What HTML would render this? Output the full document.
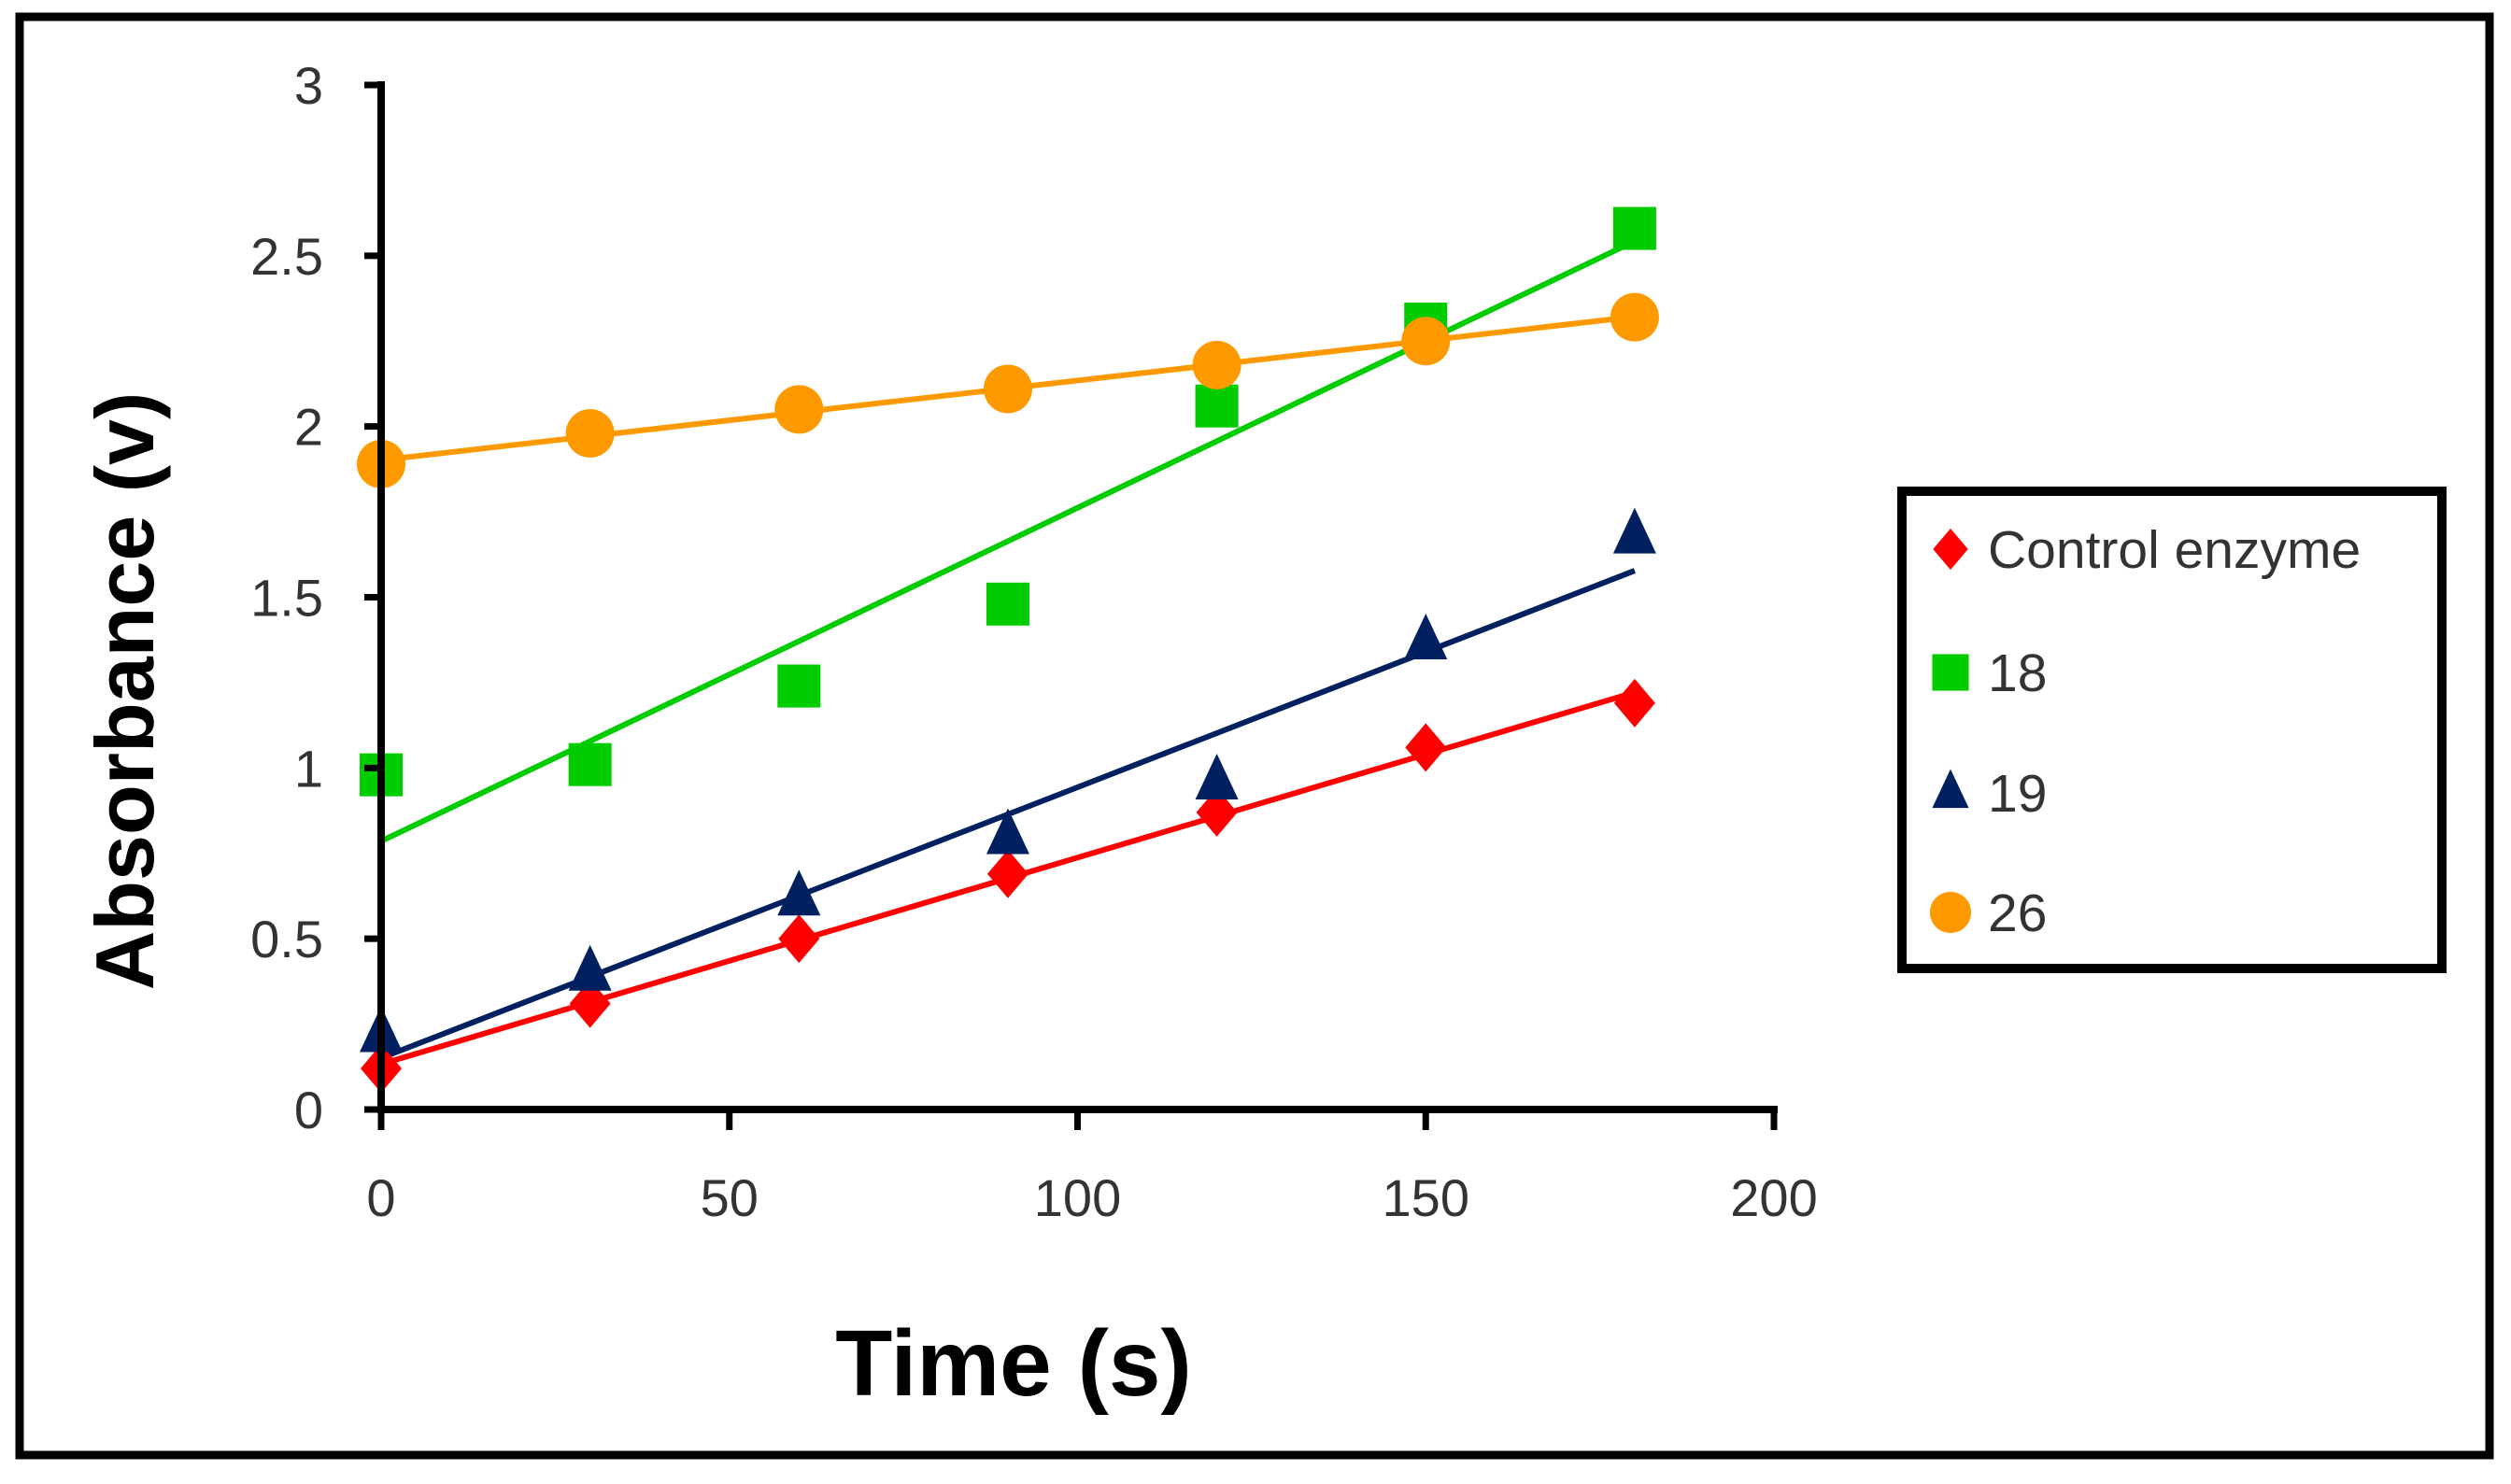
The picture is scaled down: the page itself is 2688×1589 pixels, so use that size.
<!DOCTYPE html>
<html><head><meta charset="utf-8"><style>
html,body{margin:0;padding:0;background:#fff;}
svg{display:block;}
text{font-family:"Liberation Sans",sans-serif;}
</style></head><body>
<svg id="chart" width="2688" height="1589" viewBox="0 0 2688 1589" xmlns="http://www.w3.org/2000/svg">
<rect x="21" y="18" width="2644" height="1540" fill="#fff" stroke="#000" stroke-width="9"/>
<g id="plot"></g>
<g id="axes"></g>
<text x="1085" y="1494" font-size="100" font-weight="bold" text-anchor="middle">Time (s)</text>
<text transform="translate(164,740) rotate(-90)" font-size="88" font-weight="bold" text-anchor="middle">Absorbance (v)</text>
<g>
<rect x="2036" y="526" width="578" height="511" fill="#fff" stroke="#000" stroke-width="10"/>
<g id="legend-items"></g>
</g>
</svg>
<script>
const xValues = [0, 30, 60, 90, 120, 150, 180];
const seriesNames = ["Control enzyme", "18", "19", "26"];
const controlValues = [0.12, 0.31, 0.50, 0.69, 0.87, 1.06, 1.19];
const s18Values = [0.98, 1.01, 1.24, 1.48, 2.06, 2.30, 2.58];
const s19Values = [0.22, 0.40, 0.62, 0.80, 0.96, 1.37, 1.68];
const s26Values = [1.89, 1.98, 2.05, 2.11, 2.18, 2.25, 2.32];
const xTicks = [0, 50, 100, 150, 200];
const yTicks = [0, 0.5, 1, 1.5, 2, 2.5, 3];
const yTickLabels = ["0", "0.5", "1", "1.5", "2", "2.5", "3"];

const NS = "http://www.w3.org/2000/svg";
const X0 = 408, X1 = 1899, Y0 = 1188, Y1 = 91;
function sx(v){ return X0 + (v / 200) * (X1 - X0); }
function sy(v){ return Y0 - (v / 3) * (Y0 - Y1); }
function mk(tag, attrs, parent){
  const e = document.createElementNS(NS, tag);
  for (const k in attrs) e.setAttribute(k, attrs[k]);
  parent.appendChild(e); return e;
}
const plot = document.getElementById('plot');
const axes = document.getElementById('axes');

const series = [
  {vals: controlValues, color: "#ff0000", shape: "diamond", key: "control"},
  {vals: s18Values, color: "#00cc00", shape: "square", key: "18"},
  {vals: s19Values, color: "#002060", shape: "triangle", key: "19"},
  {vals: s26Values, color: "#ff9900", shape: "circle", key: "26"}
];

function marker(shape, cx, cy, color, parent, name, sc){
  sc = sc || 1;
  let e;
  if (shape === "diamond") e = mk('polygon', {points: `${cx},${cy-26*sc} ${cx+22*sc},${cy} ${cx},${cy+26*sc} ${cx-22*sc},${cy}`, fill: color}, parent);
  else if (shape === "square") e = mk('rect', {x: cx-23*sc, y: cy-23*sc, width: 46*sc, height: 46*sc, fill: color}, parent);
  else if (shape === "triangle") e = mk('polygon', {points: `${cx},${cy-30*sc} ${cx+23*sc},${cy+19*sc} ${cx-23*sc},${cy+19*sc}`, fill: color}, parent);
  else e = mk('circle', {cx: cx, cy: cy, r: 26*sc, fill: color}, parent);
  
  
  return e;
}

series.forEach(s => {
  const n = xValues.length;
  let mx = 0, my = 0;
  for (let i = 0; i < n; i++){ mx += xValues[i]; my += s.vals[i]; }
  mx /= n; my /= n;
  let num = 0, den = 0;
  for (let i = 0; i < n; i++){ num += (xValues[i]-mx)*(s.vals[i]-my); den += (xValues[i]-mx)**2; }
  const b = num / den, a = my - b * mx;
  const xa = xValues[0], xb = xValues[n-1];
  const ln = mk('line', {x1: sx(xa), y1: sy(a + b*xa), x2: sx(xb), y2: sy(a + b*xb), stroke: s.color, 'stroke-width': 6}, plot);
  
  
});
series.forEach(s => {
  xValues.forEach((x, i) => marker(s.shape, sx(x), sy(s.vals[i]), s.color, plot, 'point-' + s.key));
});

let l = mk('line', {x1: X0, y1: Y1 - 4, x2: X0, y2: Y0 + 4, stroke: '#000', 'stroke-width': 8}, axes);


l = mk('line', {x1: X0 - 4, y1: Y0, x2: X1 + 4, y2: Y0, stroke: '#000', 'stroke-width': 8}, axes);


yTicks.forEach((v, i) => {
  const t = mk('line', {x1: X0 - 18, y1: sy(v), x2: X0, y2: sy(v), stroke: '#000', 'stroke-width': 7}, axes);
  
  
  const tx = mk('text', {x: 346, y: sy(v) + 20, 'font-size': 56, 'text-anchor': 'end', fill: '#333'}, axes);
  tx.textContent = yTickLabels[i];
  
  
});
xTicks.forEach(v => {
  const t = mk('line', {x1: sx(v), y1: Y0, x2: sx(v), y2: Y0 + 22, stroke: '#000', 'stroke-width': 7}, axes);
  
  
  const tx = mk('text', {x: sx(v), y: 1302, 'font-size': 56, 'text-anchor': 'middle', fill: '#333'}, axes);
  tx.textContent = String(v);
  
  
});

const lg = document.getElementById('legend-items');
const rows = [588, 720, 849, 977];
series.forEach((s, i) => {
  marker(s.shape, 2088, rows[i], s.color, lg, 'legend-marker-' + s.key, 0.85);
  const tx = mk('text', {x: 2128, y: rows[i] + 20, 'font-size': 57, fill: '#333'}, lg);
  tx.textContent = seriesNames[i];
  
  
});
</script>
</body></html>
